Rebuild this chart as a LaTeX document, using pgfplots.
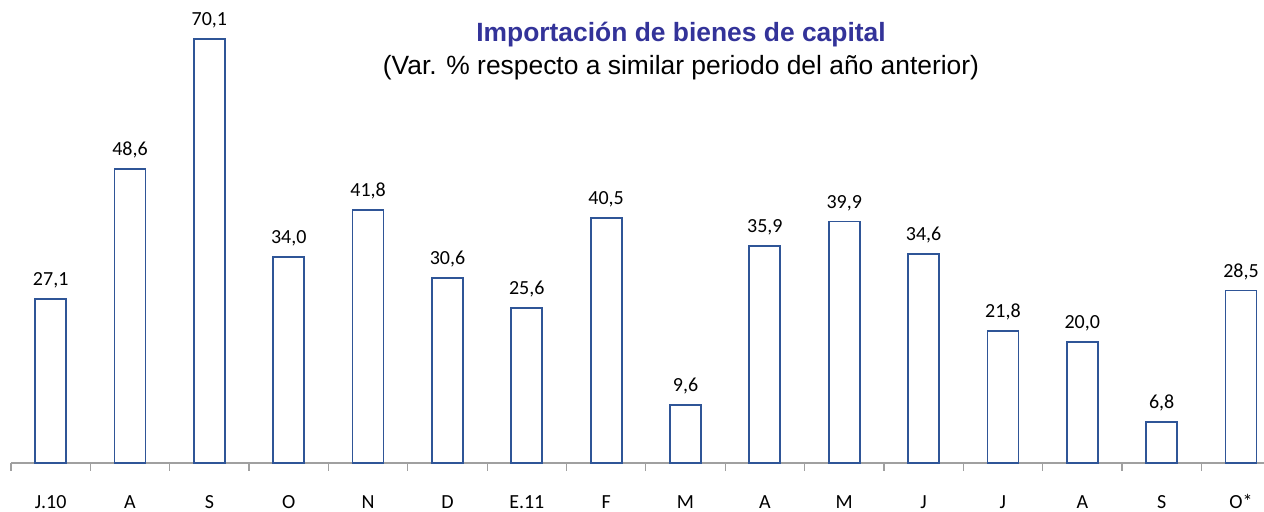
\documentclass[border=0pt]{standalone}
\usepackage{pgfplots}
\pgfplotsset{compat=1.18}
\usepackage{fontspec}
\setmainfont{Carlito}
\newfontfamily\arialf{Liberation Sans}
\definecolor{barblue}{RGB}{47,85,151}
\definecolor{titleblue}{RGB}{51,51,153}
\definecolor{axisgray}{RGB}{160,160,160}
\begin{document}
\begin{tikzpicture}
\useasboundingbox (0,0) rectangle (632pt,256pt);
\begin{axis}[
  at={(5.5pt,24.5pt)}, anchor=south west,
  scale only axis,
  width=626.5pt, height=226.9pt,
  xmin=-0.5, xmax=15.29,
  ymin=0, ymax=75,
  axis y line=none,
  axis x line*=bottom,
  x axis line style={draw=axisgray, line width=0.6pt, -},
  xtick={0,...,15},
  xticklabels={J.10,A,S,O,N,D,E.11,F,M,A,M,J,J,A,S,O*},
  major tick length=0pt,
  minor xtick={-0.5,0.5,...,14.5},
  minor tick length=4pt,
  tick align=outside,
  minor tick style={draw=axisgray, line width=0.6pt},
  xticklabel style={anchor=base, inner sep=0pt, yshift=-22.75pt, font=\fontsize{10}{12}\selectfont},
  ybar,
  bar width=15.5pt,
  clip=false,
  nodes near coords,
  nodes near coords style={anchor=base, inner sep=0pt, yshift=6.75pt, font=\fontsize{10}{12}\selectfont,
    /pgf/number format/.cd, fixed, fixed zerofill, precision=1, use comma, assume math mode=true},
]
\addplot[draw=barblue, fill=white, line width=0.9pt] coordinates {
(0,27.1) (1,48.6) (2,70.1) (3,34.0) (4,41.8) (5,30.6) (6,25.6) (7,40.5)
(8,9.6) (9,35.9) (10,39.9) (11,34.6) (12,21.8) (13,20.0) (14,6.8) (15,28.5)};
\end{axis}
\node[font=\arialf\bfseries\fontsize{13.2}{15}\selectfont, text=titleblue] at (340.5pt,238.5pt) {Importación de bienes de capital};
\node[font=\arialf\fontsize{13.2}{15}\selectfont] at (340.5pt,222pt) {(Var. \% respecto a similar periodo del año anterior)};
\end{tikzpicture}
\end{document}
